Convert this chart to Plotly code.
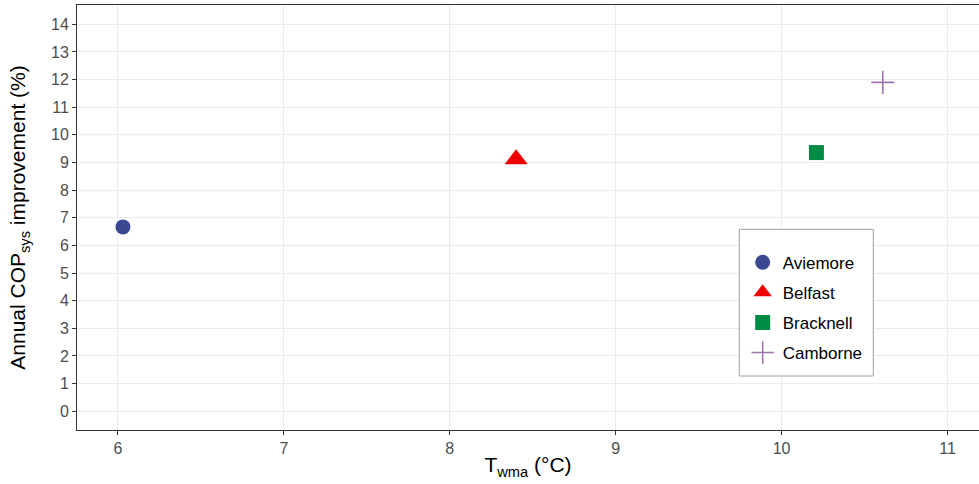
import plotly.graph_objects as go

# Annual system COP improvement by site vs. weighted mean annual temperature
sites = ["Aviemore", "Belfast", "Bracknell", "Camborne"]
t_wma = [6.03, 8.40, 10.21, 10.61]
cop_improvement = [6.67, 9.12, 9.36, 11.90]

symbols = ["circle", "triangle-up", "square", "cross-thin"]
colors = ["#3B4992", "#EE0000", "#008B45", "rgba(99,24,121,0.6)"]
sizes = [15, 20, 15, 16.5]

FONT = "Liberation Sans, Arial, sans-serif"

fig = go.Figure()
for name, x, y, sym, col, sz in zip(sites, t_wma, cop_improvement, symbols, colors, sizes):
    marker = dict(symbol=sym, size=sz, color=col)
    if sym == "cross-thin":
        marker["line"] = dict(color=col, width=1.6)
    else:
        marker["line"] = dict(width=0)
    fig.add_trace(go.Scatter(
        x=[x], y=[y], mode="markers", name=name,
        legendgroup=name, marker=marker,
    ))

axis_common = dict(
    showgrid=True, gridcolor="#EBEBEB", gridwidth=1.3,
    zeroline=False, showline=True, linecolor="#333333", linewidth=1,
    ticks="outside", ticklen=4, tickcolor="#333333", tickwidth=1,
    tickfont=dict(family=FONT, size=16, color="#4D4D4D"),
)

fig.update_xaxes(
    **axis_common,
    range=[5.753, 11.19], tickvals=[6, 7, 8, 9, 10, 11], mirror=True,
    title=dict(text="T<sub>wma</sub> (°C)", font=dict(family=FONT, size=21, color="#000000"),
               standoff=1),
)
fig.update_yaxes(
    **axis_common,
    range=[-0.68, 14.7], tickvals=list(range(0, 15)), mirror=False,
    title=dict(text="Annual COP<sub>sys</sub> improvement (%)",
               font=dict(family=FONT, size=21, color="#000000"), standoff=19),
)

# Legend frame drawn as a paper-anchored box around the legend entries
fig.add_shape(
    type="rect", xref="paper", yref="paper",
    x0=0.7343, x1=0.8828, y0=0.127, y1=0.4722,
    line=dict(color="#A0A0A0", width=1), fillcolor="white", layer="above",
)

fig.update_layout(
    width=979, height=484,
    margin=dict(l=77, r=0, t=5, b=54, autoexpand=False),
    plot_bgcolor="white", paper_bgcolor="white",
    font=dict(family=FONT),
    legend=dict(
        x=0.738, y=0.436, xanchor="left", yanchor="top",
        bgcolor="rgba(0,0,0,0)", borderwidth=0,
        font=dict(family=FONT, size=17, color="#000000"),
        traceorder="grouped", tracegroupgap=5,
        itemsizing="trace",
    ),
    showlegend=True,
)

fig.write_html("out.html")
